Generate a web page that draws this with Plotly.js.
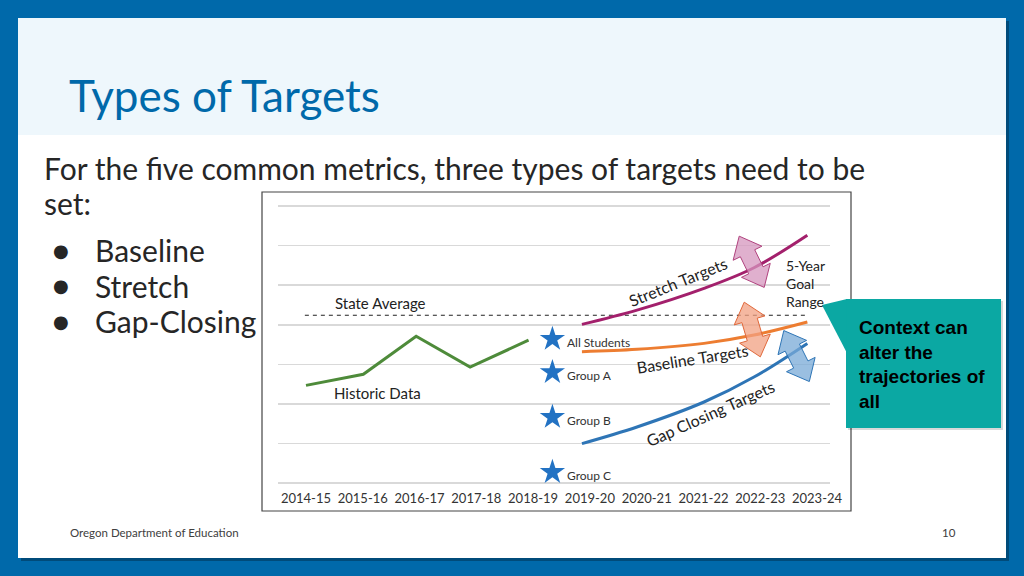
<!DOCTYPE html>
<html>
<head>
<meta charset="utf-8">
<script src="https://cdn.plot.ly/plotly-3.0.1.min.js"></script>
<style>
  html, body { margin: 0; padding: 0; background: #0069AA; }
  #slide { width: 1024px; height: 576px; }
</style>
</head>
<body>
<div id="slide"></div>
<script>
// school years on the x axis (0 = 2014-15)
const years = ["2014-15", "2015-16", "2016-17", "2017-18", "2018-19",
               "2019-20", "2020-21", "2021-22", "2022-23", "2023-24"];

// historic data (green line)
const historicX = [0, 1.01, 1.94, 2.89, 3.92];
const historicY = [2.47, 2.75, 3.71, 2.93, 3.61];

// state average (dashed)
const stateAvgX = [-0.02, 8.83];
const stateAvgY = [4.24, 4.24];

// target trajectories
const targetX = [4.86, 5.83, 7.01, 7.89, 8.83];
const stretchY = [4.01, 4.37, 4.92, 5.44, 6.26];
const baselineY = [3.32, 3.38, 3.53, 3.74, 4.07];
const gapY = [1.00, 1.42, 2.05, 2.68, 3.53];

// current-year groups (stars)
const groupNames = ["All Students", "Group A", "Group B", "Group C"];
const groupX = [4.34, 4.34, 4.34, 4.34];
const groupY = [3.64, 2.80, 1.67, 0.28];

// goal range arrows: centre (data units), tilt in degrees
const arrowCx = [7.85, 7.86, 8.64];
const arrowCy = [5.59, 3.88, 3.21];
const arrowTilt = [64, 73.6, 63.4];
const arrowFill = ["rgba(214,150,190,0.75)", "rgba(242,160,130,0.75)", "rgba(120,170,215,0.75)"];
const arrowLine = ["#B0427E", "#E0683A", "#2E75B6"];

const W = 1024, H = 576;
const px = x => x / W;
const py = y => 1 - y / H;

function arrowPath(tiltDeg) {
  const L = 57, head = 19, hw = 16, sw = 8;
  const a = tiltDeg * Math.PI / 180;
  const ux = Math.cos(a), uy = -Math.sin(a);   // y is up in pixel-sized shapes
  const vx = -uy, vy = ux;
  const pt = (s, t) => [s * ux + t * vx, s * uy + t * vy];
  const h = L / 2, b = L / 2 - head;
  const pts = [pt(-h, 0), pt(-b, hw), pt(-b, sw), pt(b, sw), pt(b, hw),
               pt(h, 0), pt(b, -hw), pt(b, -sw), pt(-b, -sw), pt(-b, -hw)];
  return "M" + pts.map(p => p[0].toFixed(2) + "," + p[1].toFixed(2)).join("L") + "Z";
}

function pathPx(points) {
  return "M" + points.map(p => px(p[0]).toFixed(4) + "," + py(p[1]).toFixed(4)).join("L") + "Z";
}

const traces = [
  {
    x: stateAvgX, y: stateAvgY, mode: "lines",
    line: { color: "#222", width: 1.2, dash: "4px,4px" }, hoverinfo: "skip"
  },
  {
    x: historicX, y: historicY, mode: "lines",
    line: { color: "#4E8B3A", width: 3 }, hoverinfo: "skip"
  },
  {
    x: targetX, y: stretchY, mode: "lines",
    line: { color: "#A3206C", width: 3, shape: "spline" }, hoverinfo: "skip"
  },
  {
    x: targetX, y: baselineY, mode: "lines",
    line: { color: "#ED7D31", width: 3, shape: "spline" }, hoverinfo: "skip"
  },
  {
    x: targetX, y: gapY, mode: "lines",
    line: { color: "#2E75B6", width: 3, shape: "spline" }, hoverinfo: "skip"
  },
  {
    x: groupX, y: groupY, mode: "markers",
    marker: { symbol: "star", size: 19, color: "#2272C3" }, hoverinfo: "skip"
  }
];

const chartFont = "Lato, 'Open Sans', sans-serif";
const bodyColor = "#262626";

const annotations = [
  // slide title and body text
  { text: "Types of Targets", x: px(67), y: py(95), xanchor: "left", yanchor: "middle",
    font: { family: chartFont, size: 44, color: "#0069AA" } },
  { text: "For the five common metrics, three types of targets need to be", x: px(42), y: py(168),
    xanchor: "left", yanchor: "middle", font: { family: chartFont, size: 30, color: bodyColor } },
  { text: "set:", x: px(42), y: py(203), xanchor: "left", yanchor: "middle",
    font: { family: chartFont, size: 30, color: bodyColor } },
  ...["Baseline", "Stretch", "Gap-Closing"].flatMap((t, i) => [
    { text: "●", x: px(61), y: py(250 + i * 35.5), xanchor: "center", yanchor: "middle",
      font: { family: "DejaVu Sans", size: 18, color: bodyColor } },
    { text: t, x: px(93), y: py(250 + i * 35.5), xanchor: "left", yanchor: "middle",
      font: { family: chartFont, size: 30, color: bodyColor } }
  ]),
  { text: "Oregon Department of Education", x: px(68), y: py(532), xanchor: "left", yanchor: "middle",
    font: { family: chartFont, size: 11.5, color: "#404040" } },
  { text: "10", x: px(958), y: py(532), xanchor: "right", yanchor: "middle",
    font: { family: chartFont, size: 11.5, color: "#404040" } },
  // callout
  { text: "<b>Context can<br>alter the<br>trajectories of<br>all</b>", x: px(857), y: py(364),
    xanchor: "left", yanchor: "middle", align: "left",
    font: { family: "Liberation Sans, Arial, sans-serif", size: 19, color: "#000" } },
  // in-chart labels
  { text: "State Average", x: 1.31, y: 4.55, xref: "x", yref: "y",
    font: { family: chartFont, size: 15, color: "#222" } },
  { text: "Historic Data", x: 1.26, y: 2.27, xref: "x", yref: "y",
    font: { family: chartFont, size: 15, color: "#222" } },
  { text: "5-Year<br>Goal<br>Range", x: 8.42, y: 5.05, xref: "x", yref: "y", xanchor: "left", align: "left",
    font: { family: chartFont, size: 14, color: "#222" } },
  { text: "Stretch Targets", x: 6.56, y: 5.08, xref: "x", yref: "y", textangle: -22,
    font: { family: chartFont, size: 16, color: "#222" } },
  { text: "Baseline Targets", x: 6.81, y: 3.16, xref: "x", yref: "y", textangle: -9,
    font: { family: chartFont, size: 16, color: "#222" } },
  { text: "Gap Closing Targets", x: 7.11, y: 1.77, xref: "x", yref: "y", textangle: -24,
    font: { family: chartFont, size: 16, color: "#222" } },
  ...groupNames.map((g, i) => ({
    text: g, x: groupX[i] + 0.22, y: groupY[i] - 0.08, xref: "x", yref: "y", xanchor: "left",
    font: { family: chartFont, size: 12, color: "#333" }
  }))
].map(a => Object.assign({ showarrow: false, xref: "paper", yref: "paper" }, a));

const shapes = [
  // slide panel with shadow
  { type: "rect", x0: px(21), x1: px(1009), y0: py(21), y1: py(561), fillcolor: "rgba(0,0,0,0.28)", line: { width: 0 }, layer: "below" },
  { type: "rect", x0: px(18), x1: px(1006), y0: py(18), y1: py(558), fillcolor: "#FFFFFF", line: { width: 0 }, layer: "below" },
  { type: "rect", x0: px(18), x1: px(1006), y0: py(18), y1: py(135), fillcolor: "#EEF7FC", line: { width: 0 }, layer: "below" },
  // chart frame
  { type: "rect", x0: px(262), x1: px(851), y0: py(192), y1: py(511), fillcolor: "#FFFFFF",
    line: { color: "#444", width: 1.2 }, layer: "below" },
  // callout box and pointer
  { type: "rect", x0: px(848), x1: px(1003), y0: py(301), y1: py(430), fillcolor: "rgba(0,0,0,0.15)", line: { width: 0 } },
  { type: "rect", x0: px(846), x1: px(1001), y0: py(299), y1: py(428), fillcolor: "#0BA8A3", line: { width: 0 } },
  { type: "path", path: pathPx([[822, 305], [847, 299], [847, 353]]), fillcolor: "#0BA8A3", line: { width: 0 } },
  // goal range arrows
  ...arrowCx.map((cx, i) => ({
    type: "path", xref: "x", yref: "y", xsizemode: "pixel", ysizemode: "pixel",
    xanchor: cx, yanchor: arrowCy[i], path: arrowPath(arrowTilt[i]),
    fillcolor: arrowFill[i], line: { color: arrowLine[i], width: 1 }
  }))
].map(s => Object.assign({ xref: "paper", yref: "paper" }, s));

const layout = {
  width: W, height: H,
  margin: { l: 0, r: 0, t: 0, b: 0 },
  paper_bgcolor: "#0069AA",
  plot_bgcolor: "rgba(0,0,0,0)",
  showlegend: false,
  xaxis: {
    domain: [px(278), px(830)],
    range: [-0.493, 9.229],
    tickvals: years.map((_, i) => i),
    ticktext: years,
    showgrid: false, zeroline: false, showline: false, ticks: "",
    ticklabelstandoff: 5,
    tickfont: { family: chartFont, size: 13, color: "#333" },
    fixedrange: true
  },
  yaxis: {
    domain: [py(484), py(198)],
    range: [-0.02, 7.2],
    dtick: 1,
    showticklabels: false,
    showgrid: true, gridcolor: "#D9D9D9", gridwidth: 1.5,
    zeroline: true, zerolinecolor: "#D9D9D9", zerolinewidth: 1.5,
    fixedrange: true
  },
  shapes: shapes,
  annotations: annotations
};

Plotly.newPlot("slide", traces, layout, { staticPlot: true });
</script>
</body>
</html>
